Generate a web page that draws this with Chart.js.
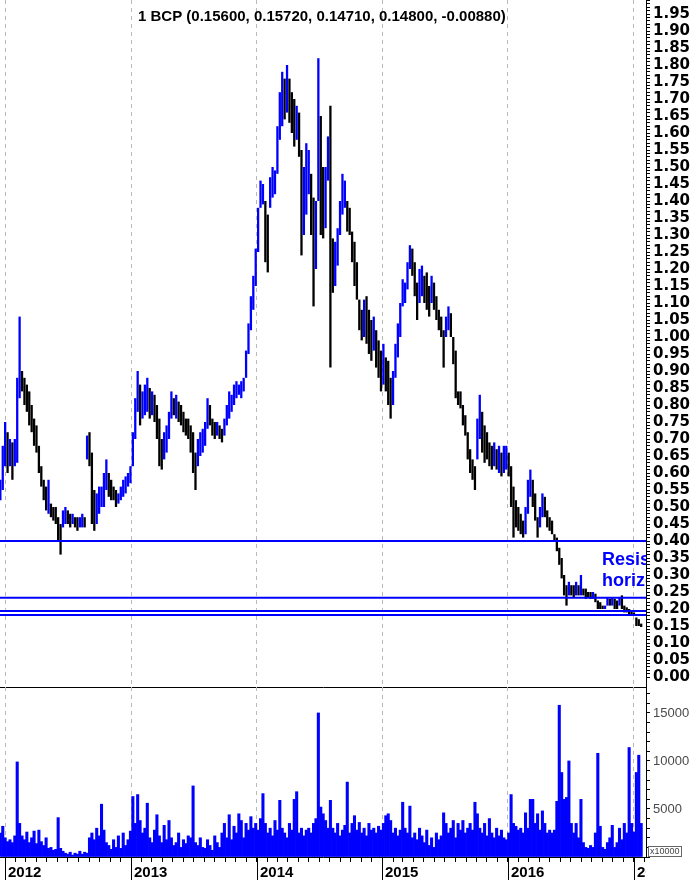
<!DOCTYPE html>
<html>
<head>
<meta charset="utf-8">
<script src="https://cdn.jsdelivr.net/npm/chart.js@4.4.0/dist/chart.umd.min.js"></script>
<style>
  html, body { margin: 0; padding: 0; background: #fff; }
  #wrap { position: relative; width: 694px; height: 880px; overflow: hidden; }
  #priceChart { position: absolute; left: 0; top: 0; }
  #volumeChart { position: absolute; left: 0; top: 687px; }
</style>
</head>
<body>
<div id="wrap">
  <canvas id="priceChart" width="694" height="690"></canvas>
  <canvas id="volumeChart" width="694" height="193"></canvas>
</div>
<script>
// weekly bars, day offset counted from 1 Jan 2012
const weekStart = -14;

const priceLow = [
  0.52, 0.55, 0.62, 0.60, 0.62, 0.58, 0.62, 0.63, 0.82, 0.84,
  0.80, 0.78, 0.74, 0.72, 0.68, 0.66, 0.60, 0.56, 0.52, 0.49,
  0.48, 0.47, 0.46, 0.45, 0.40, 0.36, 0.44, 0.45, 0.45, 0.44,
  0.45, 0.44, 0.43, 0.44, 0.44, 0.44, 0.64, 0.62, 0.45, 0.43,
  0.45, 0.48, 0.50, 0.50, 0.55, 0.53, 0.52, 0.52, 0.50, 0.51,
  0.52, 0.53, 0.54, 0.56, 0.57, 0.62, 0.70, 0.78, 0.74, 0.76,
  0.77, 0.78, 0.76, 0.77, 0.75, 0.70, 0.62, 0.61, 0.64, 0.66,
  0.70, 0.76, 0.77, 0.76, 0.75, 0.74, 0.72, 0.71, 0.70, 0.66,
  0.60, 0.55, 0.62, 0.65, 0.66, 0.68, 0.73, 0.74, 0.71, 0.70,
  0.71, 0.70, 0.69, 0.71, 0.74, 0.76, 0.78, 0.80, 0.82, 0.83,
  0.82, 0.84, 0.88, 0.95, 1.02, 1.08, 1.15, 1.25, 1.38, 1.39,
  1.22, 1.19, 1.38, 1.41, 1.42, 1.48, 1.58, 1.62, 1.64, 1.66,
  1.63, 1.60, 1.56, 1.58, 1.53, 1.24, 1.30, 1.36, 1.42, 1.30,
  1.09, 1.20, 1.40, 1.30, 1.29, 1.32, 1.46, 0.91, 1.13, 1.15,
  1.21, 1.30, 1.36, 1.38, 1.31, 1.30, 1.22, 1.15, 1.11, 1.02,
  0.99, 1.00, 0.98, 0.95, 0.93, 0.96, 0.91, 0.88, 0.84, 0.86,
  0.84, 0.80, 0.76, 0.80, 0.88, 0.94, 1.00, 1.09, 1.10, 1.14,
  1.20, 1.18, 1.12, 1.05, 1.10, 1.12, 1.10, 1.08, 1.06, 1.10,
  1.08, 1.05, 1.02, 1.00, 0.91, 1.00, 1.02, 1.00, 0.92, 0.82,
  0.80, 0.79, 0.74, 0.71, 0.64, 0.60, 0.58, 0.55, 0.64, 0.70,
  0.66, 0.63, 0.64, 0.62, 0.61, 0.62, 0.61, 0.60, 0.59, 0.60,
  0.61, 0.59, 0.50, 0.41, 0.44, 0.43, 0.42, 0.41, 0.42, 0.48,
  0.53, 0.50, 0.46, 0.41, 0.44, 0.47, 0.47, 0.44, 0.43, 0.42,
  0.40, 0.37, 0.33, 0.29, 0.24, 0.21, 0.24, 0.24, 0.235, 0.24,
  0.24, 0.24, 0.24, 0.23, 0.235, 0.23, 0.23, 0.22, 0.20, 0.20,
  0.20, 0.20, 0.21, 0.21, 0.21, 0.20, 0.20, 0.21, 0.20, 0.19,
  0.19, 0.185, 0.18, 0.18, 0.15, 0.15, 0.147
];
const priceHigh = [
  0.58, 0.68, 0.75, 0.72, 0.70, 0.69, 0.70, 0.88, 1.06, 0.90,
  0.88, 0.86, 0.84, 0.80, 0.76, 0.74, 0.68, 0.62, 0.58, 0.56,
  0.58, 0.51, 0.50, 0.50, 0.47, 0.45, 0.49, 0.50, 0.49, 0.48,
  0.48, 0.47, 0.47, 0.47, 0.48, 0.47, 0.71, 0.72, 0.66, 0.55,
  0.54, 0.56, 0.56, 0.60, 0.64, 0.60, 0.58, 0.56, 0.55, 0.54,
  0.56, 0.58, 0.59, 0.60, 0.62, 0.72, 0.82, 0.90, 0.86, 0.84,
  0.86, 0.88, 0.85, 0.84, 0.83, 0.80, 0.76, 0.70, 0.72, 0.74,
  0.78, 0.84, 0.82, 0.83, 0.81, 0.80, 0.78, 0.76, 0.76, 0.74,
  0.72, 0.66, 0.70, 0.72, 0.73, 0.75, 0.82, 0.80, 0.76, 0.75,
  0.75, 0.74, 0.73, 0.76, 0.80, 0.84, 0.83, 0.86, 0.87, 0.86,
  0.87, 0.88, 0.96, 1.04, 1.12, 1.18, 1.26, 1.38, 1.46, 1.45,
  1.40, 1.36, 1.47, 1.50, 1.49, 1.62, 1.72, 1.78, 1.76, 1.80,
  1.76, 1.72, 1.70, 1.68, 1.66, 1.55, 1.50, 1.57, 1.55, 1.48,
  1.41, 1.40, 1.82, 1.65, 1.50, 1.50, 1.59, 1.68, 1.29, 1.28,
  1.32, 1.40, 1.48, 1.46, 1.40, 1.38, 1.31, 1.28, 1.22, 1.11,
  1.08, 1.11, 1.12, 1.08, 1.05, 1.06, 1.02, 0.99, 0.96, 0.98,
  0.94, 0.93, 0.88, 0.90, 0.98, 1.04, 1.10, 1.17, 1.16, 1.22,
  1.27, 1.26, 1.22, 1.16, 1.20, 1.21, 1.18, 1.19, 1.15, 1.18,
  1.16, 1.12, 1.08, 1.06, 1.02, 1.06, 1.09, 1.07, 1.00, 0.96,
  0.84, 0.84, 0.80, 0.77, 0.72, 0.67, 0.64, 0.62, 0.76, 0.83,
  0.78, 0.74, 0.72, 0.69, 0.68, 0.69, 0.67, 0.68, 0.66, 0.68,
  0.68, 0.66, 0.62, 0.56, 0.52, 0.50, 0.48, 0.46, 0.50, 0.58,
  0.61, 0.58, 0.54, 0.47, 0.50, 0.54, 0.53, 0.49, 0.47, 0.46,
  0.42, 0.41, 0.38, 0.35, 0.30, 0.27, 0.28, 0.27, 0.27, 0.28,
  0.27, 0.30, 0.26, 0.26, 0.25, 0.25, 0.25, 0.245, 0.225, 0.22,
  0.21, 0.21, 0.235, 0.23, 0.235, 0.23, 0.225, 0.235, 0.24, 0.21,
  0.205, 0.20, 0.195, 0.19, 0.175, 0.17, 0.157
];
// volume, in units of 10000 shares
const volume = [
  2500, 3200, 2000, 1600, 1800, 1500, 2200, 9900, 3500, 2200,
  1800, 2600, 1500, 2000, 2700, 1400, 2800, 1600, 1200, 2000,
  900, 1000, 700, 800, 4100, 900, 600, 400, 300, 500,
  200, 400, 300, 600, 300, 500, 400, 2000, 2500, 1800,
  3000, 2200, 5500, 2800, 1500, 1200, 800, 1800, 1000, 2200,
  900, 2500, 1200, 1800, 2700, 6300, 3500, 6500, 3800, 2500,
  3000, 5600, 2000, 1500, 2800, 4400, 2200, 1500, 3300, 1800,
  3800, 2000, 1200, 1500, 2500, 1000, 1800, 1400, 2200, 2000,
  7400, 1500, 1200, 2000, 1000, 900, 1800, 1200, 700, 2200,
  1500, 1000, 2500, 3500, 2000, 4400, 1800, 3200, 2500, 4500,
  3800, 2000, 3500, 2800, 4200, 3000, 3500, 2800, 4000, 6600,
  3500, 2500, 3000, 2200, 3800, 2800, 5900, 3000, 2500, 2000,
  3500, 2800, 6000, 6800, 2500, 3000, 2200, 2800, 3000, 2500,
  3500, 4000, 15000, 5200, 4500, 3800, 3000, 5900, 3000, 2500,
  3500, 2200, 2800, 3300, 7800, 2500, 3500, 4300, 2800, 3600,
  2500, 3000, 2200, 3500, 2800, 3000, 2500, 3200, 2800, 3500,
  4300, 4500, 3800, 2500, 3000, 2200, 2800, 5700, 3000, 2500,
  5300, 2000, 2500, 1800, 3000, 2200, 1500, 2800, 1200, 2000,
  1000, 2500, 1800, 2200, 4600, 3500, 2500, 3000, 3800, 2000,
  3500, 2800, 3800, 2500, 3000, 3500, 2800, 5700, 4500, 3000,
  2500, 3500, 2200, 4000, 2500, 2000, 3000, 2200, 2800, 2000,
  1800, 2500, 6500, 3500, 3200, 2800, 3000, 2500, 4600, 3000,
  6000, 6000, 3500, 4500, 2800, 4800, 3500, 2500, 2800, 2500,
  2800, 5800, 15800, 8800, 6000, 6200, 10000, 3500, 2500, 3500,
  2000, 6000, 1500, 1000, 900, 1200, 1000, 2500, 10800, 3200,
  1000, 800, 1500, 2000, 3300, 1000, 1500, 3000, 1800, 3500,
  2500, 11400, 3500, 2600, 8800, 10600, 3500
];
const levels = [0.40, 0.233, 0.194, 0.182];
const years = [2012, 2013, 2014, 2015, 2016, 2017];
const priceTicks = [];   // minor ticks every 0.01, labelled every 0.05
for (let c = 0; c <= 199; c++) priceTicks.push(c / 100);
const volumeTicks = [];  // minor ticks every 1000, labelled every 5000
for (let v = 0; v <= 17000; v += 1000) volumeTicks.push(v);
const titleText = '1 BCP (0.15600, 0.15720, 0.14710, 0.14800, -0.00880)';
const noteLines = ['Resistências', 'horizontais'];
const noteAnchor = { day: 1734, prices: [0.329, 0.268] };

const xMin = -15, xMax = 1862;
const priceMin = -0.0294, priceMax = 1.9912;
const volMax = 17700;

const BLUE = '#0000ff';
const dayOf = (y, m) => (Date.UTC(y, m, 1) - Date.UTC(2012, 0, 1)) / 86400000;
const yearDays = years.map(y => dayOf(y, 0));
const monthDays = [];
for (let y = 2011; y <= 2017; y++) {
    for (let m = 0; m < 12; m++) {
        const d = dayOf(y, m);
        if (d >= xMin && d <= xMax) monthDays.push(d);
    }
}
const weekDays = priceLow.map((_, i) => weekStart + 7 * i);
const barColors = priceLow.map((lo, i) => {
    if (i === 0) return BLUE;
    const mid = (lo + priceHigh[i]) / 2;
    const prev = (priceLow[i - 1] + priceHigh[i - 1]) / 2;
    return mid >= prev ? BLUE : '#000000';
});

function xScale(withTicks) {
    return {
        type: 'linear',
        min: xMin,
        max: xMax,
        offset: false,
        afterBuildTicks: s => { s.ticks = monthDays.map(v => ({ value: v })); },
        afterFit: s => {
            s.height = withTicks ? 23 : 0;
            s.paddingLeft = 0; s.paddingRight = 0;
        },
        ticks: { display: false },
        grid: {
            offset: false,
            color: c => (c.tick && yearDays.includes(c.tick.value)) ? '#b8b8b8' : 'rgba(0,0,0,0)',
            lineWidth: 1,
            drawTicks: withTicks,
            tickLength: 5,
            tickColor: '#000',
            tickBorderDash: []
        },
        border: { display: true, color: '#000', width: 1, dash: [4, 4] }
    };
}

function yScale(min, max, tickValues, labelOf, font, color) {
    return {
        position: 'right',
        min: min,
        max: max,
        afterBuildTicks: s => { s.ticks = tickValues.map(v => ({ value: v })); },
        afterFit: s => {
            s.width = 48;
            s.paddingTop = 0; s.paddingBottom = 0;
        },
        ticks: {
            autoSkip: false,
            padding: 3,
            color: color,
            font: font,
            callback: labelOf
        },
        grid: { drawOnChartArea: false, tickLength: 4, tickColor: '#000' },
        border: { display: true, color: '#000' }
    };
}

const overlayPrice = {
    id: 'overlayPrice',
    afterDatasetsDraw(chart) {
        const { ctx, chartArea, scales } = chart;
        ctx.save();
        ctx.beginPath();
        ctx.rect(chartArea.left, chartArea.top, chartArea.right - chartArea.left, chartArea.bottom - chartArea.top);
        ctx.clip();
        ctx.fillStyle = BLUE;
        ctx.font = 'bold 18px "Liberation Sans", Arial, sans-serif';
        ctx.textBaseline = 'alphabetic';
        const nx = scales.x.getPixelForValue(noteAnchor.day);
        noteLines.forEach((t, i) => ctx.fillText(t, nx, scales.y.getPixelForValue(noteAnchor.prices[i])));
        ctx.restore();

        ctx.save();
        ctx.fillStyle = '#000';
        ctx.font = 'bold 15px "Liberation Sans", Arial, sans-serif';
        ctx.textBaseline = 'alphabetic';
        ctx.fillText(titleText, 138, 21);
        ctx.restore();
    }
};

const overlayVolume = {
    id: 'overlayVolume',
    afterDraw(chart) {
        const { ctx, chartArea, scales } = chart;
        const bottom = chart.height;
        ctx.save();
        ctx.beginPath();
        ctx.rect(0, chartArea.bottom, chartArea.right, bottom - chartArea.bottom);
        ctx.clip();
        ctx.strokeStyle = '#000';
        ctx.lineWidth = 1;
        ctx.fillStyle = '#000';
        ctx.font = 'bold 15px "Liberation Sans", Arial, sans-serif';
        ctx.textBaseline = 'alphabetic';
        years.forEach((y, i) => {
            const px = Math.round(scales.x.getPixelForValue(yearDays[i])) + 0.5;
            ctx.beginPath();
            ctx.moveTo(px, chartArea.bottom);
            ctx.lineTo(px, bottom);
            ctx.stroke();
            ctx.fillText(String(y), px + 2.5, bottom - 3);
        });
        ctx.restore();

        // unit box under the volume axis
        ctx.save();
        ctx.font = '9px "Liberation Sans", Arial, sans-serif';
        ctx.strokeStyle = '#666';
        ctx.lineWidth = 1;
        const bx = chartArea.right + 2.5, by = chartArea.bottom - 10.5;
        ctx.fillStyle = '#fff';
        ctx.fillRect(bx, by, 33, 10);
        ctx.strokeRect(bx, by, 33, 10);
        ctx.fillStyle = '#444';
        ctx.textBaseline = 'middle';
        ctx.fillText('x10000', bx + 1.5, by + 5.5);
        ctx.restore();
    }
};

new Chart(document.getElementById('priceChart'), {
    type: 'bar',
    data: {
        datasets: [
            ...levels.map(l => ({
                type: 'line',
                data: [{ x: xMin, y: l }, { x: xMax, y: l }],
                borderColor: BLUE,
                borderWidth: 2,
                pointRadius: 0,
                order: 0
            })),
            {
                type: 'bar',
                data: weekDays.map((d, i) => ({ x: d, y: [priceLow[i], priceHigh[i]] })),
                backgroundColor: barColors,
                borderWidth: 0,
                barPercentage: 0.95,
                categoryPercentage: 1,
                grouped: false,
                order: 1
            }
        ]
    },
    options: {
        responsive: false,
        animation: false,
        events: [],
        layout: { padding: { left: 0, right: 0, top: 0, bottom: 3 } },
        plugins: { legend: { display: false }, tooltip: { enabled: false } },
        scales: {
            x: xScale(false),
            y: yScale(priceMin, priceMax, priceTicks,
                v => {
                    const c = Math.round(v * 100);
                    return c % 5 === 0 ? (c / 100).toFixed(2) : '';
                },
                { family: 'DejaVu Sans', weight: 'bold', size: 15 }, '#000')
        }
    },
    plugins: [overlayPrice]
});

new Chart(document.getElementById('volumeChart'), {
    type: 'bar',
    data: {
        datasets: [{
            data: weekDays.map((d, i) => ({ x: d, y: volume[i] })),
            backgroundColor: BLUE,
            borderWidth: 0,
            barPercentage: 1,
            categoryPercentage: 1
        }]
    },
    options: {
        responsive: false,
        animation: false,
        events: [],
        layout: { padding: 0 },
        plugins: { legend: { display: false }, tooltip: { enabled: false } },
        scales: {
            x: xScale(true),
            y: yScale(0, volMax, volumeTicks,
                v => (v > 0 && Math.round(v) % 5000 === 0) ? String(Math.round(v)) : '',
                { family: 'Liberation Sans', size: 13 }, '#4a4a4a')
        }
    },
    plugins: [overlayVolume]
});
</script>
</body>
</html>
